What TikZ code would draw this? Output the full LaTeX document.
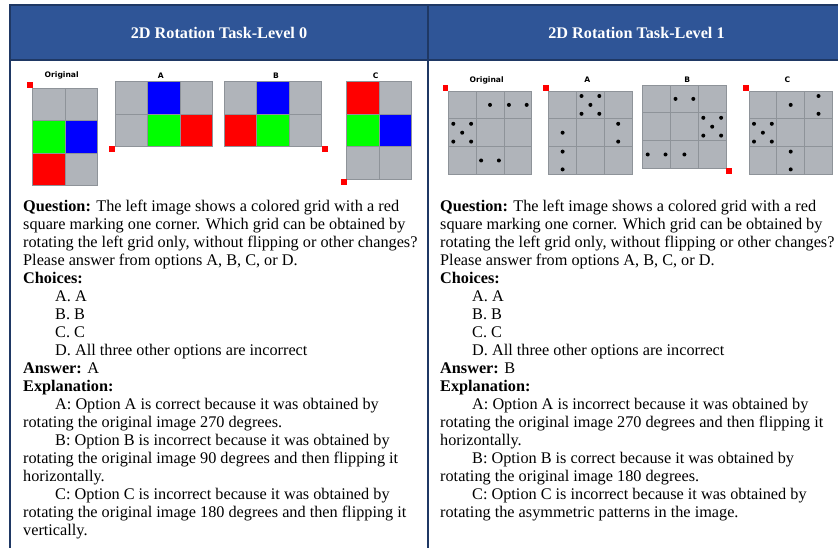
\documentclass[tikz,border=0pt]{standalone}
\usepackage{fontspec}
\setmainfont{Liberation Serif}
\newfontfamily\lblfont{DejaVu Sans}
\definecolor{cg}{RGB}{176,180,186}
\definecolor{cline}{RGB}{142,147,153}
\definecolor{cr}{RGB}{255,0,0}
\definecolor{cgr}{RGB}{0,255,0}
\definecolor{cb}{RGB}{0,0,255}
\definecolor{hdrfill}{RGB}{47,85,151}
\definecolor{tblline}{RGB}{31,56,100}
\tikzset{
  cellst/.style={draw=cline,line width=0.8pt},
  markst/.style={fill=cr},
  dotst/.style={fill=black},
  lbl/.style={font=\lblfont\bfseries\fontsize{7.6}{8}\selectfont,inner sep=0pt},
  htext/.style={font=\bfseries\fontsize{16.2}{18}\selectfont,text=white,inner sep=0pt},
  body/.style={font=\fontsize{16.25}{18}\selectfont,align=left,inner sep=0pt,anchor=north west},
  tbl/.style={draw=tblline,line width=1.2pt},
  dOne/.pic={\fill[dotst] (13.9,13.9) circle[radius=2pt];},
  dTwoH/.pic={\fill[dotst] (5,13.9) circle[radius=2pt] (22.8,13.9) circle[radius=2pt];},
  dTwoV/.pic={\fill[dotst] (13.9,5) circle[radius=2pt] (13.9,22.8) circle[radius=2pt];},
  dFive/.pic={\fill[dotst] (5,5) circle[radius=2pt] (22.8,5) circle[radius=2pt]
     (13.9,13.9) circle[radius=2pt] (5,22.8) circle[radius=2pt] (22.8,22.8) circle[radius=2pt];}
}
\begin{document}
\begin{tikzpicture}[x=1pt,y=-1pt]
\useasboundingbox (0,0) rectangle (838,548);
\clip (0,0) rectangle (838,548);
% header
\fill[hdrfill] (10,5) rectangle (850,60);
\draw[tbl] (850,5) -- (10,5) -- (10,560);
\draw[tbl] (10,60) -- (850,60);
\draw[tbl] (428,5) -- (428,560);
\node[htext] (h0) at (219,33) {2D Rotation Task-Level 0};
\node[htext] (h1) at (636.5,33) {2D Rotation Task-Level 1};

% ---------- left panel images ----------
\node[lbl] (l0o) at (61.7,75.5) {Original};
\node[lbl] (l0a) at (160.7,75.5) {A};
\node[lbl] (l0b) at (276,75.5) {B};
\node[lbl] (l0c) at (375.7,75.5) {C};
% original 2x3
\foreach \i/\j/\c in {0/0/cg,1/0/cg,0/1/cgr,1/1/cb,0/2/cr,1/2/cg}
  \path[cellst,fill=\c] ({32.5+\i*32.5},{88+\j*32.5}) rectangle ++(32.5,32.5);
\fill[markst] (26.5,82) rectangle (32.5,88);
% A 3x2
\foreach \i/\j/\c in {0/0/cg,1/0/cb,2/0/cg,0/1/cg,1/1/cgr,2/1/cr}
  \path[cellst,fill=\c] ({115+\i*32.5},{81.5+\j*32.5}) rectangle ++(32.5,32.5);
\fill[markst] (109,146.5) rectangle (115,152.5);
% B 3x2
\foreach \i/\j/\c in {0/0/cg,1/0/cb,2/0/cg,0/1/cr,1/1/cgr,2/1/cg}
  \path[cellst,fill=\c] ({224+\i*32.5},{81.5+\j*32.5}) rectangle ++(32.5,32.5);
\fill[markst] (321.5,146.5) rectangle (327.5,152.5);
% C 2x3
\foreach \i/\j/\c in {0/0/cr,1/0/cg,0/1/cgr,1/1/cb,0/2/cg,1/2/cg}
  \path[cellst,fill=\c] ({346.5+\i*32.5},{81.5+\j*32.5}) rectangle ++(32.5,32.5);
\fill[markst] (340.5,179) rectangle (346.5,185);

% ---------- right panel images ----------
\node[lbl] (l1o) at (486.7,80) {Original};
\node[lbl] (l1a) at (587.3,80) {A};
\node[lbl] (l1b) at (687.3,80) {B};
\node[lbl] (l1c) at (787.3,80) {C};
\foreach \xo/\yo in {448.3/91,548.7/91,642.7/85,749/91}
  \foreach \i in {0,1,2}
    \foreach \j in {0,1,2}
      \path[cellst,fill=cg] ({\xo+\i*27.8},{\yo+\j*27.8}) rectangle ++(27.8,27.8);
% original
\fill[markst] (442.7,85.3) rectangle (448.3,91);
\pic at ({448.3+27.8},91) {dOne};
\pic at ({448.3+2*27.8},91) {dTwoH};
\pic at (448.3,{91+27.8}) {dFive};
\pic at ({448.3+27.8},{91+2*27.8}) {dTwoH};
% A
\fill[markst] (543,85.3) rectangle (548.7,91);
\pic at ({548.7+27.8},91) {dFive};
\pic at (548.7,{91+27.8}) {dOne};
\pic at ({548.7+2*27.8},{91+27.8}) {dTwoV};
\pic at (548.7,{91+2*27.8}) {dTwoV};
% B
\fill[markst] (726.1,168.4) rectangle (731.8,174.1);
\pic at ({642.7+27.8},85) {dTwoH};
\pic at ({642.7+2*27.8},{85+27.8}) {dFive};
\pic at (642.7,{85+2*27.8}) {dTwoH};
\pic at ({642.7+27.8},{85+2*27.8}) {dOne};
% C
\fill[markst] (743.3,85.3) rectangle (749,91);
\pic at ({749+27.8},91) {dOne};
\pic at ({749+2*27.8},91) {dTwoV};
\pic at (749,{91+27.8}) {dFive};
\pic at ({749+27.8},{91+2*27.8}) {dTwoV};

% ---------- texts ----------
\node[body] (t0) at (23,199.1) {\strut\textbf{Question:} The left image shows a colored grid with a red\\
square marking one corner. Which grid can be obtained by\\
rotating the left grid only, without flipping or other changes?\\
Please answer from options A, B, C, or D.\\
\textbf{Choices:}\\
\hspace*{32pt}A. A\\
\hspace*{32pt}B. B\\
\hspace*{32pt}C. C\\
\hspace*{32pt}D. All three other options are incorrect\\
\textbf{Answer:} A\\
\textbf{Explanation:}\\
\hspace*{32pt}A: Option A is correct because it was obtained by\\
rotating the original image 270 degrees.\\
\hspace*{32pt}B: Option B is incorrect because it was obtained by\\
rotating the original image 90 degrees and then flipping it\\
horizontally.\\
\hspace*{32pt}C: Option C is incorrect because it was obtained by\\
rotating the original image 180 degrees and then flipping it\\
vertically.};
\node[body] (t1) at (440,199.1) {\strut\textbf{Question:} The left image shows a colored grid with a red\\
square marking one corner. Which grid can be obtained by\\
rotating the left grid only, without flipping or other changes?\\
Please answer from options A, B, C, or D.\\
\textbf{Choices:}\\
\hspace*{32pt}A. A\\
\hspace*{32pt}B. B\\
\hspace*{32pt}C. C\\
\hspace*{32pt}D. All three other options are incorrect\\
\textbf{Answer:} B\\
\textbf{Explanation:}\\
\hspace*{32pt}A: Option A is incorrect because it was obtained by\\
rotating the original image 270 degrees and then flipping it\\
horizontally.\\
\hspace*{32pt}B: Option B is correct because it was obtained by\\
rotating the original image 180 degrees.\\
\hspace*{32pt}C: Option C is incorrect because it was obtained by\\
rotating the asymmetric patterns in the image.};
\end{tikzpicture}
\end{document}
